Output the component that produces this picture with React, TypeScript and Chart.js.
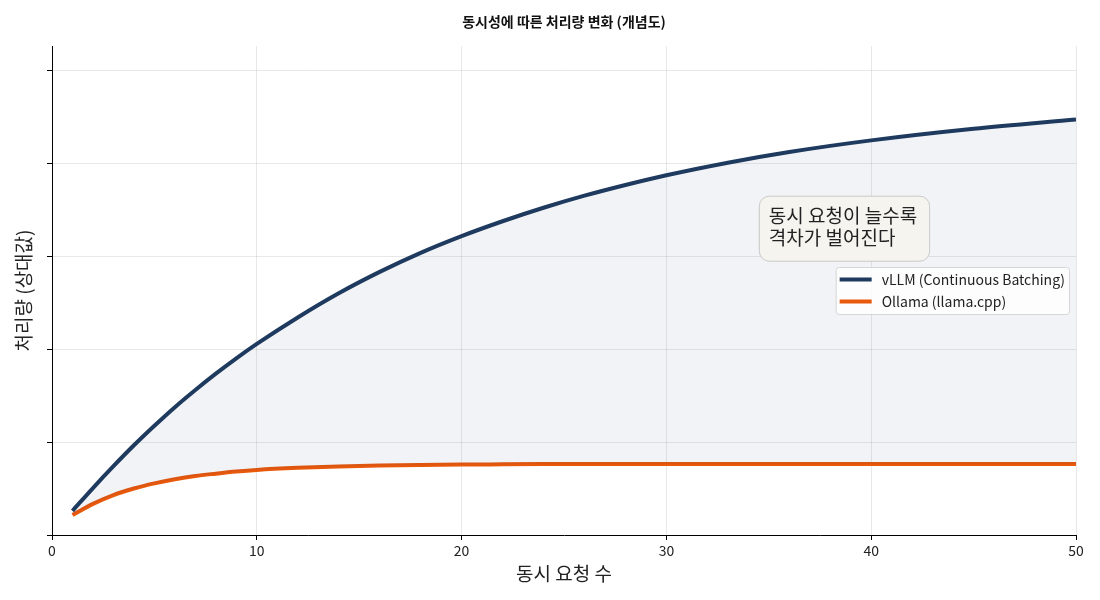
import React, { useEffect, useRef } from "react";
import { Chart, registerables } from "chart.js";

Chart.register(...registerables);

const chartTitle = "동시성에 따른 처리량 변화 (개념도)";
const xAxisTitle = "동시 요청 수";
const yAxisTitle = "처리량 (상대값)";
const annotationLines = ["동시 요청이 늘수록", "격차가 벌어진다"];

const concurrency = [1, 2, 3, 4, 5, 6, 7, 8, 9, 10, 12, 14, 16, 18, 20, 22, 24, 26, 28, 30, 33, 36, 40, 45, 50];
const vllmThroughput = [
  0.052, 0.101, 0.148, 0.193, 0.235, 0.275, 0.312, 0.347, 0.38, 0.411, 0.468, 0.52, 0.566, 0.607,
  0.643, 0.675, 0.704, 0.73, 0.753, 0.774, 0.801, 0.824, 0.849, 0.874, 0.894,
];
const ollamaThroughput = [
  0.043, 0.067, 0.086, 0.1, 0.111, 0.12, 0.127, 0.132, 0.1365, 0.14, 0.1445, 0.1475, 0.1495, 0.1507,
  0.1515, 0.152, 0.1525, 0.153, 0.153, 0.153, 0.153, 0.153, 0.153, 0.153, 0.153,
];
const seriesLabels = ["vLLM (Continuous Batching)", "Ollama (llama.cpp)"];

const xTicks = [0, 10, 20, 30, 40, 50];
const yTicks = [0, 0.2, 0.4, 0.6, 0.8, 1.0];

const FONT = '"Noto Sans CJK KR", "Noto Sans", sans-serif';
const NAVY = "#1f3a5f";
const ORANGE = "#e8590c";

const titlePlugin = {
  id: "centeredTitle",
  afterDraw(chart: any) {
    const { ctx, chartArea } = chart;
    ctx.save();
    ctx.font = `bold 14px ${FONT}`;
    ctx.fillStyle = "#111";
    ctx.textAlign = "center";
    ctx.textBaseline = "middle";
    ctx.fillText(chartTitle, (chartArea.left + chartArea.right) / 2, 22);
    ctx.restore();
  },
};

const legendPlugin = {
  id: "customLegend",
  afterDraw(chart: any) {
    const { ctx, chartArea } = chart;
    const items = chart.data.datasets.map((ds: any) => ({ label: ds.label, color: ds.borderColor }));
    ctx.save();
    ctx.font = `14px ${FONT}`;
    const textW = Math.max(...items.map((i: any) => ctx.measureText(i.label).width));
    const padL = 4;
    const lineLen = 32;
    const gap = 10;
    const padR = 4;
    const rowH = 22;
    const boxW = padL + lineLen + gap + textW + padR;
    const boxH = 47;
    const right = chartArea.right - 7;
    const left = right - boxW;
    const top = (chartArea.top + chartArea.bottom) / 2 - boxH / 2;
    ctx.beginPath();
    if (ctx.roundRect) ctx.roundRect(left + 0.5, top + 0.5, boxW, boxH, 3);
    else ctx.rect(left + 0.5, top + 0.5, boxW, boxH);
    ctx.fillStyle = "rgba(255,255,255,0.85)";
    ctx.fill();
    ctx.strokeStyle = "#d6d6d6";
    ctx.lineWidth = 1;
    ctx.stroke();
    items.forEach((it: any, i: number) => {
      const cy = top + 12.5 + i * rowH;
      ctx.beginPath();
      ctx.moveTo(left + padL, cy);
      ctx.lineTo(left + padL + lineLen, cy);
      ctx.strokeStyle = it.color;
      ctx.lineWidth = 4;
      ctx.stroke();
      ctx.fillStyle = "#222";
      ctx.textBaseline = "middle";
      ctx.textAlign = "left";
      ctx.fillText(it.label, left + padL + lineLen + gap, cy + 0.5);
    });
    ctx.restore();
  },
};

const annotationPlugin = {
  id: "gapAnnotation",
  afterDraw(chart: any) {
    const { ctx } = chart;
    const x = chart.scales.x.getPixelForValue(35);
    const yc = chart.scales.y.getPixelForValue(0.66);
    ctx.save();
    ctx.font = `19px ${FONT}`;
    const textW = Math.max(...annotationLines.map((l) => ctx.measureText(l).width));
    const left = x - 10;
    const boxW = textW + 22;
    const boxH = 65;
    const top = yc - boxH / 2;
    ctx.beginPath();
    if (ctx.roundRect) ctx.roundRect(left + 0.5, top + 0.5, boxW, boxH, 10);
    else ctx.rect(left + 0.5, top + 0.5, boxW, boxH);
    ctx.fillStyle = "#f5f4ef";
    ctx.fill();
    ctx.strokeStyle = "#c9c9c9";
    ctx.lineWidth = 1;
    ctx.stroke();
    ctx.fillStyle = "#222";
    ctx.textBaseline = "middle";
    ctx.textAlign = "left";
    annotationLines.forEach((l, i) => {
      ctx.fillText(l, x, top + 20 + i * 22);
    });
    ctx.restore();
  },
};

export default function App() {
  const canvasRef = useRef<HTMLCanvasElement | null>(null);

  useEffect(() => {
    if (!canvasRef.current) return;
    const chart = new Chart(canvasRef.current, {
      type: "line",
      data: {
        datasets: [
          {
            label: seriesLabels[0],
            data: concurrency.map((x, i) => ({ x, y: vllmThroughput[i] })),
            borderColor: NAVY,
            borderWidth: 4,
            pointRadius: 0,
            cubicInterpolationMode: "monotone",
            fill: "+1",
            backgroundColor: "rgba(31,58,95,0.06)",
          },
          {
            label: seriesLabels[1],
            data: concurrency.map((x, i) => ({ x, y: ollamaThroughput[i] })),
            borderColor: ORANGE,
            borderWidth: 4,
            pointRadius: 0,
            cubicInterpolationMode: "monotone",
            fill: false,
          },
        ],
      },
      options: {
        responsive: false,
        animation: false,
        layout: { padding: { left: 0, right: 24, top: 46, bottom: 0 } },
        plugins: {
          legend: { display: false },
          tooltip: { enabled: false },
          title: { display: false },
        },
        scales: {
          x: {
            type: "linear",
            min: 0,
            max: 50,
            afterBuildTicks: (scale: any) => {
              scale.ticks = xTicks.map((v) => ({ value: v }));
            },
            afterFit: (scale: any) => {
              scale.height = 65;
            },
            grid: {
              color: "rgba(0,0,0,0.09)",
              tickColor: "#000",
              tickLength: 5,
              lineWidth: 1,
            },
            border: { display: true, color: "#000", width: 1 },
            ticks: {
              color: "#222",
              padding: 2,
              font: { family: FONT, size: 14 },
              maxRotation: 0,
            },
            title: {
              display: true,
              text: xAxisTitle,
              color: "#222",
              font: { family: FONT, size: 19, lineHeight: 1.2 },
              padding: { top: 0, bottom: 15 },
            },
          },
          y: {
            type: "linear",
            min: 0,
            max: 1.052,
            afterBuildTicks: (scale: any) => {
              scale.ticks = yTicks.map((v) => ({ value: v }));
            },
            afterFit: (scale: any) => {
              scale.width = 52;
            },
            grid: {
              color: "rgba(0,0,0,0.09)",
              tickColor: "#000",
              tickLength: 5,
              lineWidth: 1,
            },
            border: { display: true, color: "#000", width: 1 },
            ticks: { display: false },
            title: {
              display: true,
              text: yAxisTitle,
              color: "#222",
              font: { family: FONT, size: 19, lineHeight: 1.2 },
              padding: { top: 12, bottom: 0 },
            },
          },
        },
      },
      plugins: [titlePlugin, annotationPlugin, legendPlugin],
    } as any);
    return () => chart.destroy();
  }, []);

  return (
    <div style={{ position: "absolute", left: 0, top: 0, width: 1100, height: 600, background: "#fff" }}>
      <canvas ref={canvasRef} width={1100} height={600} style={{ width: 1100, height: 600 }} />
    </div>
  );
}
